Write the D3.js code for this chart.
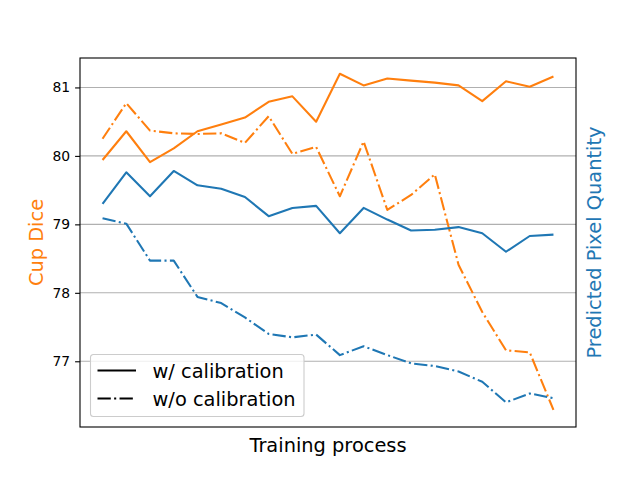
<!DOCTYPE html>
<html>
<head>
  <style>
    body {
      margin: 0;
      background: white;
    }
    text {
      font-family: "DejaVu Sans", sans-serif;
    }
  </style>
</head>
<body>
  <script src="https://d3js.org/d3.v7.min.js"></script>
  <script>
    var width = 640, height = 480;
    var margin = {top: 58, right: 64, bottom: 53, left: 80};

    // Cup Dice (left axis)
    var diceCalib = [79.94, 80.36, 79.91, 80.11, 80.36, 80.46, 80.56, 80.79, 80.87, 80.50,
                     81.20, 81.03, 81.13, 81.10, 81.07, 81.03, 80.80, 81.09, 81.01, 81.16];
    var diceNoCalib = [80.25, 80.77, 80.37, 80.33, 80.32, 80.33, 80.19, 80.58, 80.03, 80.13,
                       79.41, 80.21, 79.21, 79.43, 79.73, 78.41, 77.72, 77.16, 77.13, 76.29];
    // Predicted pixel quantity (right axis, no ticks shown)
    var pixelCalib = [79.30, 79.76, 79.41, 79.78, 79.57, 79.52, 79.40, 79.12, 79.24, 79.27,
                      78.87, 79.24, 79.07, 78.91, 78.92, 78.96, 78.87, 78.60, 78.83, 78.85];
    var pixelNoCalib = [79.09, 79.01, 78.47, 78.47, 77.94, 77.85, 77.64, 77.40, 77.35, 77.39,
                        77.09, 77.22, 77.09, 76.97, 76.93, 76.85, 76.70, 76.40, 76.53, 76.46];
    var yTicks = [77, 78, 79, 80, 81];
    var legendLabels = ["w/ calibration", "w/o calibration"];

    var orange = "#ff7f0e", blue = "#1f77b4";
    var lw = 2.08;
    var dashdot = "13.3,3.33,2.08,3.33";

    var w = width - margin.left - margin.right,
        h = height - margin.top - margin.bottom;

    var svg = d3.select("body").append("svg")
        .attr("width", width)
        .attr("height", height);

    var g = svg.append("g")
        .attr("transform", "translate(" + margin.left + "," + margin.top + ")");

    var n = diceCalib.length;
    var x = d3.scaleLinear()
        .domain([-0.05 * (n - 1), (n - 1) * 1.05])
        .range([0, w]);

    var y = d3.scaleLinear().domain([76.04, 81.43]).range([h, 0]);
    var yRight = d3.scaleLinear().domain([76.04, 81.43]).range([h, 0]);

    // grid
    g.append("g")
        .selectAll("line")
        .data(yTicks)
      .enter().append("line")
        .attr("x1", 0).attr("x2", w)
        .attr("y1", d => y(d)).attr("y2", d => y(d))
        .attr("stroke", "#b0b0b0")
        .attr("stroke-width", 1.1);

    function drawLine(values, scale, color, dash){
      var line = d3.line()
          .x((d, i) => x(i))
          .y(d => scale(d));
      g.append("path")
          .datum(values)
          .attr("d", line)
          .attr("fill", "none")
          .attr("stroke", color)
          .attr("stroke-width", lw)
          .attr("stroke-dasharray", dash)
          .attr("stroke-linejoin", "round");
    }

    drawLine(diceCalib, y, orange, null);
    drawLine(diceNoCalib, y, orange, dashdot);
    drawLine(pixelCalib, yRight, blue, null);
    drawLine(pixelNoCalib, yRight, blue, dashdot);

    // left axis
    var yAxis = g.append("g")
        .call(d3.axisLeft(y).tickValues(yTicks).tickFormat(d3.format("d"))
          .tickSize(4.9).tickPadding(4.9));
    yAxis.select(".domain").remove();
    yAxis.selectAll("line").attr("stroke", "black").attr("stroke-width", 1.1);
    yAxis.selectAll("text")
        .style("font-family", "DejaVu Sans")
        .style("font-size", "13.9px")
        .attr("fill", "black");

    // frame
    g.append("rect")
        .attr("width", w).attr("height", h)
        .attr("fill", "none")
        .attr("stroke", "black")
        .attr("stroke-width", 1.1);

    // labels
    svg.append("text")
        .attr("x", margin.left + w / 2)
        .attr("y", 452)
        .attr("text-anchor", "middle")
        .style("font-size", "19.4px")
        .text("Training process");

    svg.append("text")
        .attr("transform", "translate(43," + (margin.top + h / 2) + ") rotate(-90)")
        .attr("text-anchor", "middle")
        .attr("fill", orange)
        .style("font-size", "19.4px")
        .text("Cup Dice");

    svg.append("text")
        .attr("transform", "translate(601," + (margin.top + h / 2) + ") rotate(-90)")
        .attr("text-anchor", "middle")
        .attr("fill", blue)
        .style("font-size", "19.4px")
        .text("Predicted Pixel Quantity");

    // legend
    var legend = svg.append("g").attr("transform", "translate(90.5,354.5)");
    legend.append("rect")
        .attr("width", 213.5).attr("height", 62)
        .attr("rx", 3).attr("ry", 3)
        .attr("fill", "white").attr("fill-opacity", 0.8)
        .attr("stroke", "#cccccc").attr("stroke-width", 1.1);

    var rows = legend.selectAll("g.row")
        .data(legendLabels)
      .enter().append("g")
        .attr("class", "row")
        .attr("transform", (d, i) => "translate(0," + (16 + i * 28) + ")");
    rows.append("line")
        .attr("x1", 7).attr("x2", 45.5)
        .attr("y1", 0).attr("y2", 0)
        .attr("stroke", "black")
        .attr("stroke-width", lw)
        .attr("stroke-dasharray", (d, i) => i === 0 ? null : dashdot);
    rows.append("text")
        .attr("x", 62)
        .attr("y", 7)
        .style("font-size", "19.4px")
        .text(d => d);
  </script>
</body>
</html>
